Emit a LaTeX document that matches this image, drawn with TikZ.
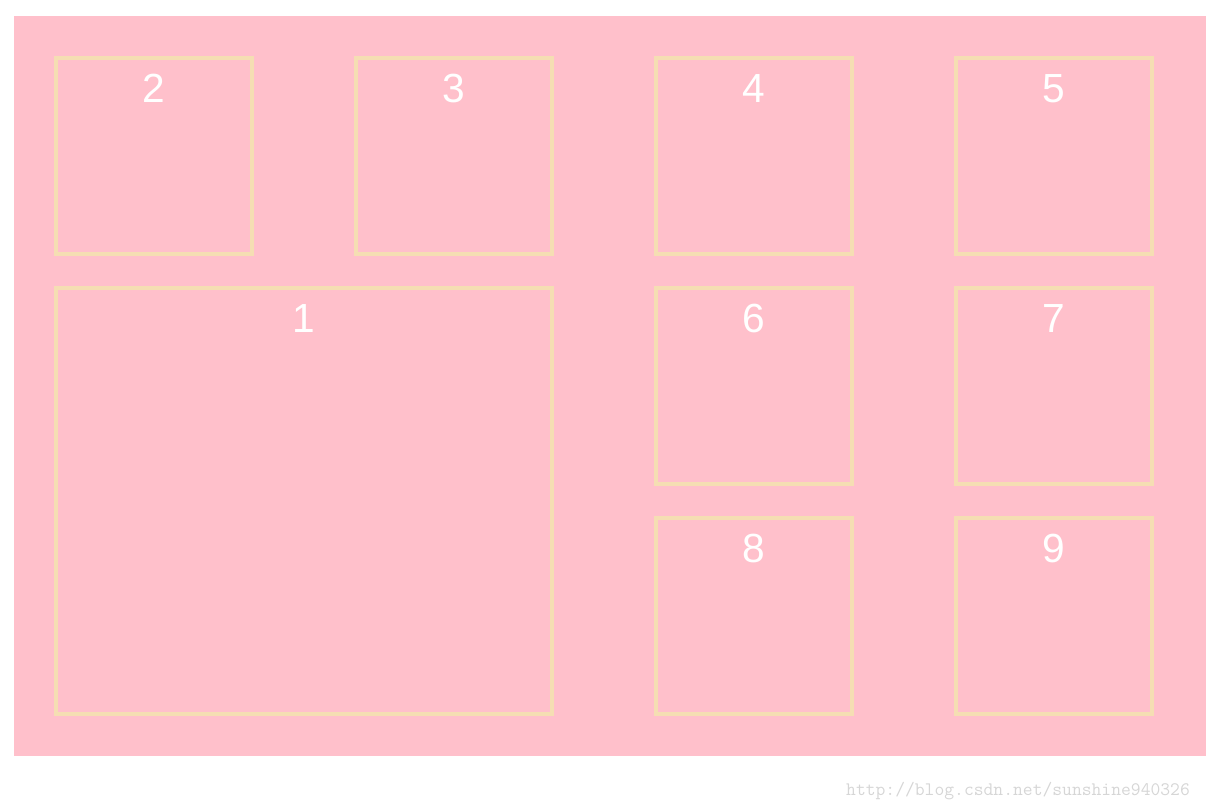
\documentclass[tikz,border=0pt]{standalone}
\usepackage{fontspec}
\setmainfont{Liberation Sans}
\definecolor{boxpink}{HTML}{FFC0CB}
\definecolor{boxwheat}{HTML}{F5DEB3}
\definecolor{markgray}{HTML}{D6D6D6}
\tikzset{
    cell/.style={draw=boxwheat, line width=3pt, inner sep=0pt, outer sep=0pt,
        minimum width=147pt, minimum height=147pt},
    bigcell/.style={cell, minimum width=372pt, minimum height=319.5pt},
    num/.style={text=white, inner sep=0pt, font=\fontsize{30.5}{32}\selectfont},
}
\begin{document}
\begin{tikzpicture}[x=0.75pt, y=-0.75pt]
    \useasboundingbox (0,0) rectangle (1206,810);
    \fill[boxpink] (14,16) rectangle (1206,756);
    % top row
    \node[cell] (c2) at (154,156) {};
    \node[cell] (c3) at (454,156) {};
    \node[cell] (c4) at (754,156) {};
    \node[cell] (c5) at (1054,156) {};
    % big one
    \node[bigcell] (c1) at (304,501) {};
    % right block
    \node[cell] (c6) at (754,386) {};
    \node[cell] (c7) at (1054,386) {};
    \node[cell] (c8) at (754,616) {};
    \node[cell] (c9) at (1054,616) {};
    % numbers
    \node[num, below=12pt] (n1) at (c1.north) {1};
    \node[num, below=12pt] (n2) at (c2.north) {2};
    \node[num, below=12pt] (n3) at (c3.north) {3};
    \node[num, below=12pt] (n4) at (c4.north) {4};
    \node[num, below=12pt] (n5) at (c5.north) {5};
    \node[num, below=12pt] (n6) at (c6.north) {6};
    \node[num, below=12pt] (n7) at (c7.north) {7};
    \node[num, below=12pt] (n8) at (c8.north) {8};
    \node[num, below=12pt] (n9) at (c9.north) {9};
    \node[text=markgray, font=\ttfamily\fontsize{14.3}{15}\selectfont] (mark) at (1018,791) {http://blog.csdn.net/sunshine940326};
\end{tikzpicture}
\end{document}
